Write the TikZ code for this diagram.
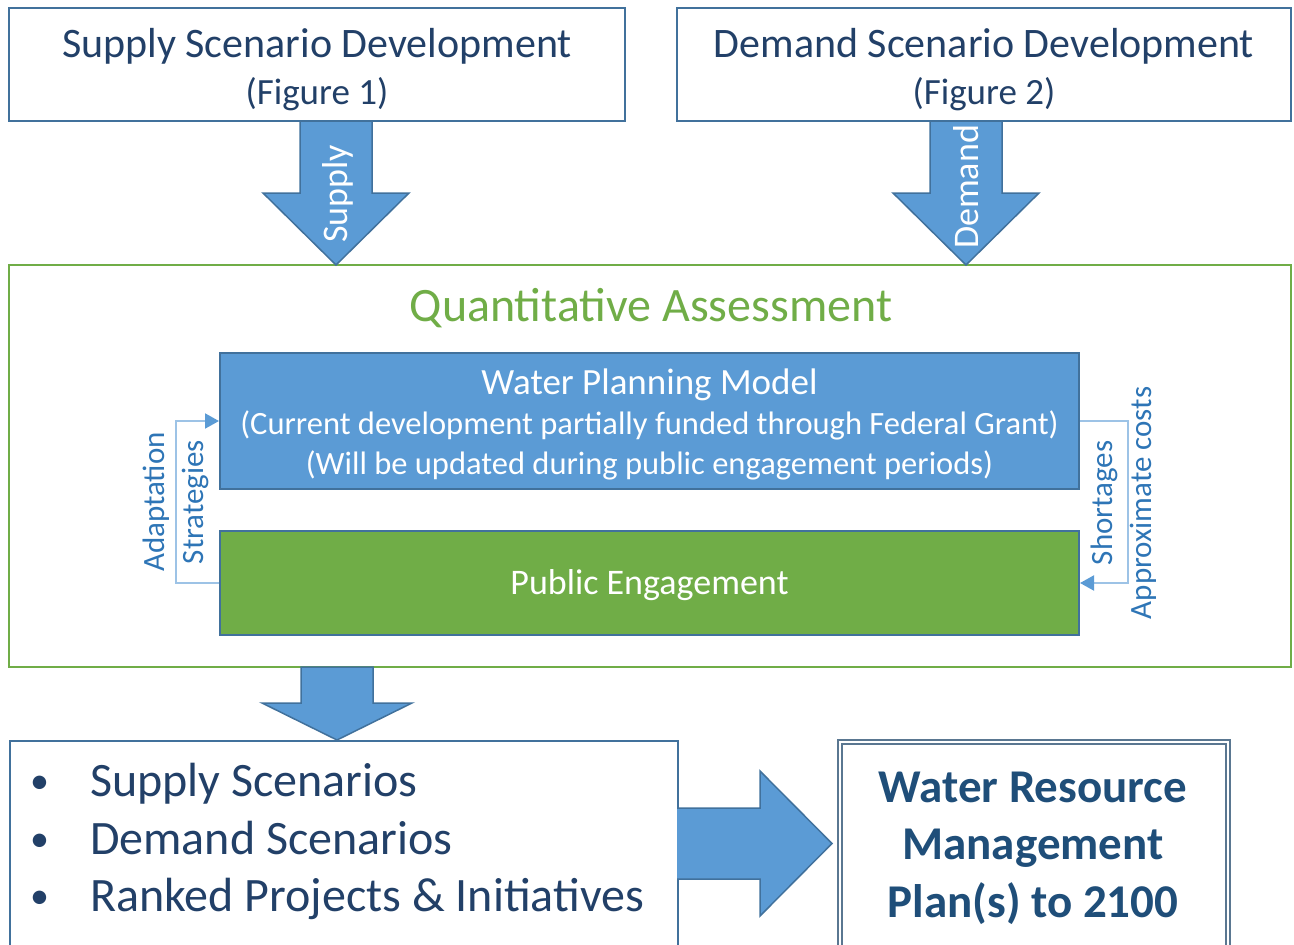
\documentclass[tikz,border=0pt]{standalone}
\usepackage{fontspec}
\setmainfont{Carlito}
\usetikzlibrary{arrows.meta}

\definecolor{boxline}{RGB}{65,113,156}
\definecolor{boxtext}{RGB}{34,64,104}
\definecolor{plantext}{RGB}{31,78,121}
\definecolor{qagreen}{RGB}{112,173,71}
\definecolor{modelblue}{RGB}{91,155,213}
\definecolor{loopline}{RGB}{157,195,230}
\definecolor{looptext}{RGB}{46,117,182}

\begin{document}
\begin{tikzpicture}[x=1pt,y=-1pt,
    box/.style={draw=boxline, line width=2pt, fill=white, inner sep=0pt},
    boxlabel/.style={align=center, inner sep=0pt},
    blockarrow/.style={draw=boxline, line width=1.5pt, fill=modelblue, line join=miter},
    feedback/.style={draw=loopline, line width=2pt,
      -{Triangle[length=14pt,width=15pt,color=modelblue]}},
    looplabel/.style={rotate=90, align=center, text=looptext,
      font=\fontsize{31}{39}\selectfont}]
  \useasboundingbox (0,0) rectangle (1294,945);
  \clip (0,0) rectangle (1294,945);

  % Scenario inputs
  \node[box, minimum width=616, minimum height=113] (supplydev) at (317,64.5) {};
  \node[box, minimum width=614, minimum height=113] (demanddev) at (984,64.5) {};
  \node[boxlabel, text=boxtext, font=\fontsize{37}{47}\selectfont, yshift=-5pt]
    (supplytext) at (supplydev)
    {{\fontsize{42}{47}\selectfont Supply Scenario Development}\\(Figure 1)};
  \node[boxlabel, text=boxtext, font=\fontsize{37}{47}\selectfont, yshift=-5pt]
    (demandtext) at (demanddev)
    {{\fontsize{42}{47}\selectfont Demand Scenario Development}\\(Figure 2)};

  % Assessment frame
  \node[draw=qagreen, line width=2pt, minimum width=1282, minimum height=402,
    inner sep=0pt] (qa) at (650,466) {};
  \node[text=qagreen, font=\fontsize{48}{56}\selectfont] (qatitle) at (651,308)
    {Quantitative Assessment};
  \node[box, fill=modelblue, minimum width=859, minimum height=136] (model)
    at (649.5,421) {};
  \node[boxlabel, text=white, font=\fontsize{32.5}{40}\selectfont, yshift=-3pt]
    (modeltext) at (model)
    {{\fontsize{37}{40}\selectfont Water Planning Model}\\
     (Current development partially funded through Federal Grant)\\
     (Will be updated during public engagement periods)};
  \node[box, fill=qagreen, minimum width=859, minimum height=104] (engage)
    at (649.5,583) {};
  \node[boxlabel, text=white, font=\fontsize{36}{40}\selectfont, yshift=-2pt]
    (engagetext) at (engage) {Public Engagement};

  % Loops between model and engagement
  \draw[feedback] (engage.west) -- ++(-43,0) |- (model.west);
  \draw[feedback] (model.east) -- ++(48,0) |- (engage.east);
  \node[looplabel] (adapt) at (176,502) {Adaptation\\Strategies};
  \node[looplabel] (costs) at (1124,503) {Shortages\\Approximate costs};

  % Block arrows
  \draw[blockarrow] (300,121) -- (372,121) -- (372,193) -- (409,193) -- (336,265)
    -- (263,193) -- (300,193) -- cycle;
  \draw[blockarrow] (930,121) -- (1002,121) -- (1002,193) -- (1039,193) -- (966,265)
    -- (893,193) -- (930,193) -- cycle;
  \draw[blockarrow] (301,667) -- (373,667) -- (373,703) -- (412,703) -- (337,740)
    -- (262,703) -- (301,703) -- cycle;
  \node[rotate=90, text=white, font=\fontsize{36}{40}\selectfont] (supplylbl)
    at (338,194) {Supply};
  \node[rotate=90, text=white, font=\fontsize{36}{40}\selectfont] (demandlbl)
    at (966,187) {Demand};

  % Outputs
  \node[box, minimum width=668, minimum height=230, anchor=north west] (outputs)
    at (9,740) {};
  \node[anchor=north west, align=left, text=boxtext, inner sep=0pt,
    font=\fontsize{48}{57.5}\selectfont] (outlist) at (30,763)
    {\makebox[60pt][l]{\raisebox{3pt}{\fontsize{38}{40}\selectfont\textbullet}}Supply Scenarios\\
     \makebox[60pt][l]{\raisebox{3pt}{\fontsize{38}{40}\selectfont\textbullet}}Demand Scenarios\\
     \makebox[60pt][l]{\raisebox{3pt}{\fontsize{38}{40}\selectfont\textbullet}}Ranked Projects \& Initiatives};
  \draw[blockarrow] (677,808) -- (760,808) -- (760,771) -- (832,843.5) -- (760,916)
    -- (760,879) -- (677,879);
  \node[draw=boxline!60!gray, double=white, double distance=2.5pt, line width=1.5pt,
    minimum width=388, minimum height=230, anchor=north west] (plan) at (839,741) {};
  \node[align=center, text=plantext, font=\bfseries\fontsize{47}{57.5}\selectfont]
    (plantitle) at (1033,848) {Water Resource\\Management\\Plan(s) to 2100};
\end{tikzpicture}
\end{document}
